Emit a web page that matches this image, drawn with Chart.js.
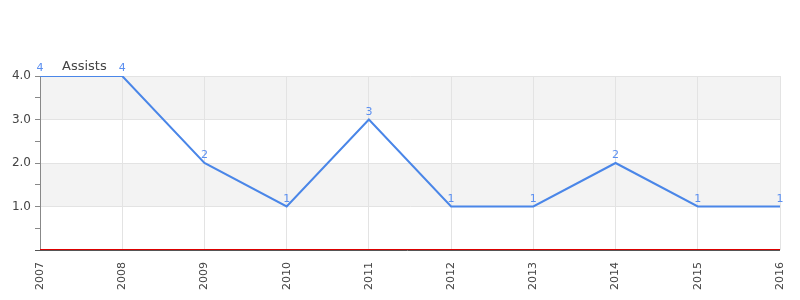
<!DOCTYPE html>
<html><head><meta charset="utf-8">
<script src="https://cdn.jsdelivr.net/npm/chart.js@4/dist/chart.umd.min.js"></script>
<style>html,body{margin:0;padding:0;background:#fff}#wrap{width:800px;height:300px}</style>
</head><body><div id="wrap"><canvas id="c" width="800" height="300"></canvas></div>
<script>
const years = ['2007','2008','2009','2010','2011','2012','2013','2014','2015','2016'];
const assists = [4,4,2,1,3,1,1,2,1,1];
const seriesName = 'Assists';
const yMin = 0, yMax = 4, yStep = 0.5;

const FONT = "'DejaVu Sans', sans-serif";

const bandsPlugin = {
  id: 'bands',
  beforeDraw(chart) {
    const {ctx, chartArea: a, scales: {y}} = chart;
    ctx.save();
    for (let v = yMin; v < yMax; v++) {
      if (v % 2 === 1) {
        const t = y.getPixelForValue(v + 1), b = y.getPixelForValue(v);
        ctx.fillStyle = '#f3f3f3';
        ctx.fillRect(a.left, t, a.right - a.left, b - t);
      }
    }
    ctx.restore();
  },
  afterDatasetsDraw(chart) {
    const {ctx, chartArea: a} = chart;
    const meta = chart.getDatasetMeta(0);
    ctx.save();
    ctx.fillStyle = '#5b8ff0';
    ctx.font = "11px " + FONT;
    ctx.textAlign = 'center';
    ctx.textBaseline = 'alphabetic';
    meta.data.forEach((pt, i) => {
      ctx.fillText(String(assists[i]), pt.x, pt.y - 5);
    });
    ctx.fillStyle = '#444';
    ctx.font = "13px " + FONT;
    ctx.textAlign = 'left';
    ctx.fillText(seriesName, a.left + 22, a.top - 6);
    ctx.restore();
  },
  afterDraw(chart) {
    const {ctx, chartArea: a, scales: {y}} = chart;
    const yp = Math.round(y.getPixelForValue(0));
    ctx.save();
    ctx.lineWidth = 1;
    ctx.strokeStyle = '#dd0000';
    ctx.beginPath(); ctx.moveTo(a.left, yp - 0.5); ctx.lineTo(a.right, yp - 0.5); ctx.stroke();
    ctx.strokeStyle = '#555';
    ctx.beginPath(); ctx.moveTo(a.left - 5, yp + 0.5); ctx.lineTo(a.right, yp + 0.5); ctx.stroke();
    ctx.restore();
  }
};

new Chart(document.getElementById('c'), {
  type: 'line',
  data: {
    labels: years,
    datasets: [{
      label: seriesName,
      data: assists,
      borderColor: '#4a86e8',
      borderWidth: 2,
      pointRadius: 0,
      tension: 0,
      fill: false
    }]
  },
  options: {
    responsive: false,
    animation: false,
    layout: { padding: { top: 76, right: 20, left: 0, bottom: 0 } },
    plugins: { legend: { display: false }, tooltip: { enabled: false }, title: { display: false } },
    scales: {
      x: {
        offset: false,
        grid: { color: '#e3e3e3', drawTicks: false },
        border: { display: false },
        ticks: { color: '#444', font: { family: FONT, size: 11 }, minRotation: 90, maxRotation: 90, padding: 12, autoSkip: false },
        afterFit(s) { s.height = 50; s.paddingLeft = 0; s.paddingRight = 0; }
      },
      y: {
        min: yMin, max: yMax,
        grid: {
          color: (c) => (c.tick && Number.isInteger(c.tick.value) && c.tick.value !== 0) ? '#e3e3e3' : 'rgba(0,0,0,0)',
          tickColor: '#888', tickLength: 5, drawTicks: true
        },
        border: { display: true, color: '#888', width: 1 },
        ticks: {
          stepSize: yStep,
          color: '#444', font: { family: FONT, size: 12 }, padding: 4,
          callback: (v) => (Number.isInteger(v) && v !== 0) ? v.toFixed(1) : ''
        },
        afterFit(s) { s.width = 40; s.paddingTop = 0; s.paddingBottom = 0; }
      }
    }
  },
  plugins: [bandsPlugin]
});
</script></body></html>
